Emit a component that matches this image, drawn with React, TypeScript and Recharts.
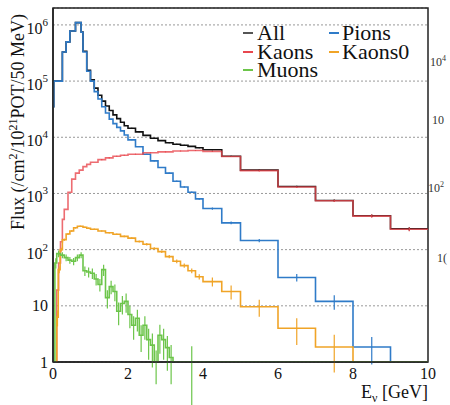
import {
  ComposedChart,
  Line,
  Scatter,
  ErrorBar,
  XAxis,
  YAxis,
  CartesianGrid,
  ReferenceArea,
} from 'recharts';

// bin low edges (last entry closes the final bin), flux per bin, error per bin
const binEdges = [0, 0.02, 0.25, 0.35, 0.45, 0.6, 0.75, 0.8, 0.9, 1.0, 1.1, 1.2, 1.3, 1.4, 1.5, 1.6, 1.7, 1.8, 1.9, 2.0, 2.2, 2.4, 2.6, 2.8, 3.0, 3.2, 3.4, 3.6, 3.8, 4.0, 4.5, 5, 6, 7, 8, 9, 10];
const allFlux = [3.5e4, 1.0e5, 3.3e5, 5.0e5, 7.8e5, 1.1e6, 7.5e5, 3.4e5, 1.55e5, 1.05e5, 7.5e4, 5.6e4, 4.4e4, 3.6e4, 3.0e4, 2.5e4, 2.15e4, 1.85e4, 1.6e4, 1.45e4, 1.25e4, 1.08e4, 9.6e3, 8.7e3, 8.0e3, 7.5e3, 7.2e3, 6.9e3, 6.5e3, 6.0e3, 4.6e3, 2.6e3, 1.33e3, 750, 400, 235];
const allErr = [0, 0, 0, 0, 0, 0, 0, 0, 0, 0, 0, 0, 0, 0, 0, 0, 0, 0, 0, 200, 180, 170, 160, 150, 140, 130, 130, 120, 120, 120, 100, 60, 40, 30, 20, 15];
const pionFlux = [3.5e4, 1.0e5, 3.3e5, 5.0e5, 7.8e5, 1.1e6, 7.4e5, 3.3e5, 1.5e5, 1.0e5, 6.5e4, 4.8e4, 3.5e4, 2.7e4, 2.1e4, 1.75e4, 1.5e4, 1.3e4, 1.1e4, 9.0e3, 6.8e3, 5.0e3, 3.8e3, 2.9e3, 2.3e3, 1.65e3, 1.3e3, 1.05e3, 800, 540, 300, 145, 32, 12, 1.85, 1];
const pionErr = [0, 0, 0, 0, 0, 0, 0, 0, 0, 0, 0, 0, 0, 0, 0, 0, 0, 0, 0, 150, 120, 100, 80, 70, 60, 45, 40, 35, 30, 25, 18, 10, 5, 3.5, 0.95, 0];

const kaonEdges = [0, 0.1, 0.15, 0.2, 0.25, 0.3, 0.4, 0.5, 0.6, 0.7, 0.8, 0.9, 1.0, 1.2, 1.4, 1.6, 1.8, 2.0, 2.4, 2.8, 3.2, 3.6, 4.0, 4.5, 5, 6, 7, 8, 9, 10];
const kaonFlux = [1, 19, 58, 138, 345, 520, 1050, 1800, 2300, 2600, 3000, 3300, 3600, 4000, 4300, 4600, 4800, 5000, 5300, 5500, 5700, 5800, 5600, 4550, 2550, 1300, 740, 395, 230];
const kaonErr = [0, 0, 0, 0, 0, 0, 0, 0, 0, 0, 0, 0, 0, 100, 100, 100, 100, 100, 110, 110, 110, 110, 110, 100, 80, 50, 35, 25, 18];

const kaon0Edges = [0, 0.1, 0.14, 0.19, 0.25, 0.35, 0.45, 0.55, 0.65, 0.8, 0.9, 1.0, 1.2, 1.4, 1.6, 1.8, 2.0, 2.2, 2.4, 2.6, 2.8, 3.0, 3.2, 3.4, 3.6, 3.8, 4.0, 4.5, 5, 6, 7, 8, 10];
const kaon0Flux = [1, 6.3, 44, 100, 150, 190, 215, 245, 260, 250, 240, 230, 215, 200, 188, 172, 160, 140, 125, 105, 92, 75, 62, 52, 42, 33, 27, 18, 9.6, 4, 1.85, 1];
const kaon0Err = [0, 2, 6, 8, 8, 8, 8, 8, 8, 7, 7, 7, 6, 6, 6, 6, 6, 6, 6, 5.5, 5, 5, 4.5, 4.5, 4, 3.5, 5, 5, 3.2, 2, 1.2, 0];

const muonEdges = [0, 0.05, 0.1, 0.2, 0.3, 0.4, 0.5, 0.6, 0.7, 0.8, 0.9, 1.0, 1.1, 1.2, 1.3, 1.4, 1.5, 1.6, 1.7, 1.8, 1.9, 2.0, 2.1, 2.2, 2.3, 2.4, 2.5, 2.6, 2.7, 2.8, 2.9, 3.0, 3.1, 3.2, 3.65, 3.75, 10];
const muonFlux = [1, 58, 85, 80, 72, 65, 62, 72, 80, 42, 40, 38, 30, 24, 44, 14, 22, 18, 8, 11, 12, 7, 4.5, 6, 3, 4.5, 2.5, 2, 1, 3, 2.5, 1.8, 1.2, 1, 1, 1];
const muonErr = [0, 12, 12, 10, 10, 9, 9, 10, 10, 8, 8, 8, 7, 6, 10, 5, 6, 6, 3.5, 4, 4.5, 3, 2, 2.5, 1.5, 2, 1.4, 1.2, 0.6, 1.6, 1.4, 1.1, 0.8, 0, 0.9, 0];

const xLabelTicks = [0, 2, 4, 6, 8, 10];
const yLabelTicks = [1, 10, 100, 1e3, 1e4, 1e5, 1e6];
const Y_MAX = 2e6;

const serif = '"Liberation Serif", "DejaVu Serif", serif';
const serifStyle = { fontFamily: serif };

const toSteps = (edges: number[], flux: number[]) =>
  edges.map((x, i) => ({ x, y: flux[Math.min(i, flux.length - 1)] }));

const toCenters = (edges: number[], flux: number[], err: number[]) =>
  flux
    .map((y, i) => ({ x: (edges[i] + edges[i + 1]) / 2, y, e: err[i] }))
    .filter((p) => p.e > 0);

const series = [
  { name: 'All', color: '#111111', edges: binEdges, flux: allFlux, err: allErr, opacity: 1 },
  { name: 'Pions', color: '#2f7bc8', edges: binEdges, flux: pionFlux, err: pionErr, opacity: 1 },
  { name: 'Kaons', color: '#e8474e', edges: kaonEdges, flux: kaonFlux, err: kaonErr, opacity: 0.8 },
  { name: 'Kaons0', color: '#f0a427', edges: kaon0Edges, flux: kaon0Flux, err: kaon0Err, opacity: 1 },
  { name: 'Muons', color: '#6cc54a', edges: muonEdges, flux: muonFlux, err: muonErr, opacity: 1 },
];

// minor tick positions
const xMinorTicks = Array.from({ length: 21 }, (_, i) => i * 0.5);
const yMinorTicks: number[] = [];
for (let d = 1; d <= 1e6; d *= 10) {
  for (let m = 2; m <= 9; m++) if (m * d <= Y_MAX) yMinorTicks.push(m * d);
}

const XTickLabel = ({ x, y, payload }: any) => (
  <text x={x} y={y + 17} textAnchor="middle" style={serifStyle} fontSize={16} fill="#111">
    {payload.value}
  </text>
);

const YTickLabel = ({ y, payload }: any) => {
  const p = Math.round(Math.log10(payload.value));
  if (p <= 1) {
    return (
      <text x={48} y={y + 5.5} textAnchor="end" style={serifStyle} fontSize={16} fill="#111">
        {p === 0 ? '1' : '10'}
      </text>
    );
  }
  return (
    <text x={48} y={y + 9} textAnchor="end" style={serifStyle} fontSize={16} fill="#111">
      10<tspan dy={-8} fontSize={11}>{p}</tspan>
    </text>
  );
};

const noLabel = () => '';

export default function App() {
  return (
    <div style={{ position: 'absolute', left: 0, top: 0, width: 450, height: 405, background: '#fff', overflow: 'hidden' }}>
      <ComposedChart width={450} height={405} margin={{ top: 8, right: 22, bottom: 0, left: 0 }}>
        <CartesianGrid vertical={false} stroke="#999" strokeDasharray="2 2" />
        <XAxis
          dataKey="x"
          type="number"
          domain={[0, 10]}
          allowDataOverflow
          ticks={xLabelTicks}
          interval={0}
          height={43}
          tickLine={false}
          tickSize={0}
          tickMargin={0}
          tick={<XTickLabel />}
          axisLine={{ stroke: '#222', strokeWidth: 1.5 }}
        />
        <XAxis xAxisId="xmajor" dataKey="x" type="number" domain={[0, 10]} allowDataOverflow mirror height={0}
          ticks={xLabelTicks} interval={0} tickSize={10} tickFormatter={noLabel} axisLine={false}
          tickLine={{ stroke: '#222', strokeWidth: 1.2 }} />
        <XAxis xAxisId="xminor" dataKey="x" type="number" domain={[0, 10]} allowDataOverflow mirror height={0}
          ticks={xMinorTicks} interval={0} tickSize={6} tickFormatter={noLabel} axisLine={false}
          tickLine={{ stroke: '#222', strokeWidth: 1.2 }} />
        <YAxis
          type="number"
          scale="log"
          domain={[1, Y_MAX]}
          allowDataOverflow
          ticks={yLabelTicks}
          interval={0}
          width={53}
          tickLine={false}
          tickSize={0}
          tickMargin={0}
          tick={<YTickLabel />}
          axisLine={{ stroke: '#222', strokeWidth: 1.5 }}
        />
        <YAxis yAxisId="ymajor" type="number" scale="log" domain={[1, Y_MAX]} allowDataOverflow mirror width={0}
          ticks={yLabelTicks} interval={0} tickSize={11} tickFormatter={noLabel} axisLine={false}
          tickLine={{ stroke: '#222', strokeWidth: 1.2 }} />
        <YAxis yAxisId="yminor" type="number" scale="log" domain={[1, Y_MAX]} allowDataOverflow mirror width={0}
          ticks={yMinorTicks} interval={0} tickSize={6} tickFormatter={noLabel} axisLine={false}
          tickLine={{ stroke: '#222', strokeWidth: 1.2 }} />

        <ReferenceArea x1={0} x2={10} y1={1} y2={Y_MAX} fill="none" stroke="#222" strokeWidth={1.5} />

        {series.map((s) => (
          <Line
            key={s.name}
            data={toSteps(s.edges, s.flux)}
            dataKey="y"
            type="stepAfter"
            stroke={s.color}
            strokeOpacity={s.opacity}
            strokeWidth={1.6}
            dot={false}
            activeDot={false}
            isAnimationActive={false}
          />
        ))}
        {series.map((s) => (
          <Scatter
            key={s.name + '-err'}
            data={toCenters(s.edges, s.flux, s.err)}
            dataKey="y"
            shape={() => <g />}
            isAnimationActive={false}
          >
            <ErrorBar dataKey="e" direction="y" width={0} stroke={s.color} strokeWidth={1.2} isAnimationActive={false} />
          </Scatter>
        ))}
      </ComposedChart>

      <svg width={450} height={405} style={{ position: 'absolute', left: 0, top: 0, pointerEvents: 'none' }}>
        {/* legend */}
        <g style={serifStyle} fontSize={22} fill="#111">
          <line x1={243} x2={253} y1={33} y2={33} stroke="#555" strokeWidth={2} />
          <text x={257} y={40}>All</text>
          <line x1={329} x2={339} y1={33} y2={33} stroke="#2f7bc8" strokeWidth={2} />
          <text x={342} y={40}>Pions</text>
          <line x1={243} x2={253} y1={52} y2={52} stroke="#e8474e" strokeWidth={2} />
          <text x={257} y={58.5}>Kaons</text>
          <line x1={329} x2={339} y1={52} y2={52} stroke="#f0a427" strokeWidth={2} />
          <text x={342} y={58.5}>Kaons0</text>
          <line x1={243} x2={253} y1={70} y2={70} stroke="#6cc54a" strokeWidth={2} />
          <text x={257} y={77}>Muons</text>
        </g>

        {/* axis titles */}
        <text transform="translate(24,122) rotate(-90)" textAnchor="middle" style={serifStyle} fontSize={18} fill="#111">
          Flux (/cm<tspan dy={-7} fontSize={12}>2</tspan>
          <tspan dy={7}>/10</tspan>
          <tspan dy={-7} fontSize={12}>21</tspan>
          <tspan dy={7}>POT/50 MeV)</tspan>
        </text>
        <text x={428} y={398} textAnchor="end" style={serifStyle} fontSize={18} fill="#111">
          E<tspan dy={4} fontSize={12}>ν</tspan>
          <tspan dy={-4}> [GeV]</tspan>
        </text>

        {/* cut-off labels from the neighbouring panel */}
        <g style={serifStyle} fontSize={12} fill="#333">
          <text x={430} y={66}>10<tspan dy={-5} fontSize={8}>4</tspan></text>
          <text x={432} y={124}>10</text>
          <text x={428} y={192}>10<tspan dy={-5} fontSize={8}>2</tspan></text>
          <text x={437} y={262}>1(</text>
        </g>
      </svg>
    </div>
  );
}
